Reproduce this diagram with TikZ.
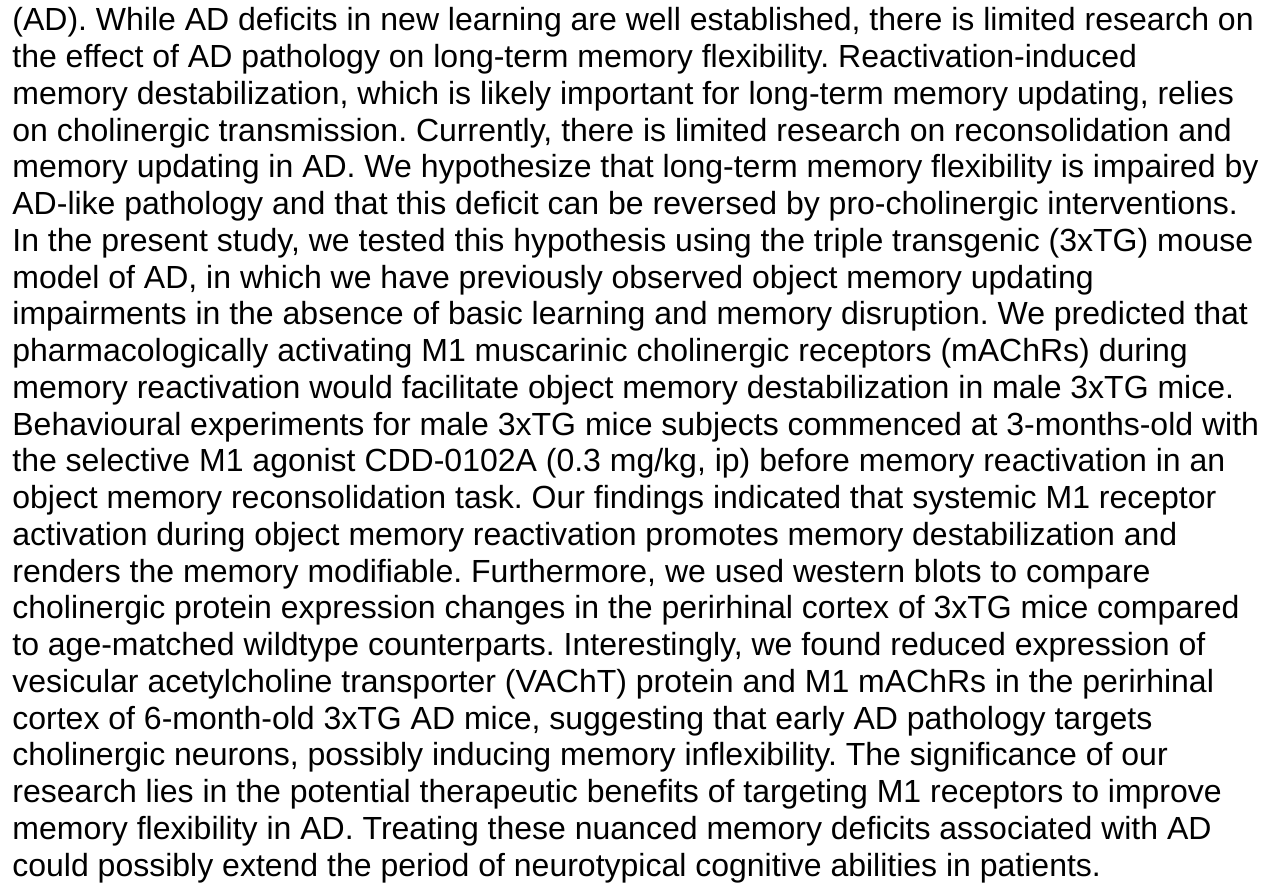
\documentclass[tikz,border=0pt]{standalone}
\usepackage{fontspec}
\setmainfont{Liberation Sans}[Ligatures={TeX,NoCommon}]
\usetikzlibrary{positioning}
\frenchspacing
\tikzset{txtline/.style={anchor=base west,inner sep=0pt,font=\fontsize{16}{19.2}\selectfont}}

\begin{document}
\begin{tikzpicture}[x=0.5pt,y=-0.5pt]
\useasboundingbox (0,0) rectangle (1271,886);
\fill[white] (0,0) rectangle (1271,886);
% Abstract text, one node per printed line.
\node[txtline] (l1) at (12,31) {(AD). While AD deficits in new learning are well established, there is limited research on};
\node[txtline] (l2) at (12,67.75) {the effect of AD pathology on long-term memory flexibility. Reactivation-induced};
\node[txtline] (l3) at (12,104.5) {memory destabilization, which is likely important for long-term memory updating, relies};
\node[txtline] (l4) at (12,141.25) {on cholinergic transmission. Currently, there is limited research on reconsolidation and};
\node[txtline] (l5) at (12,178) {memory updating in AD. We hypothesize that long-term memory flexibility is impaired by};
\node[txtline] (l6) at (12,214.75) {AD-like pathology and that this deficit can be reversed by pro-cholinergic interventions.};
\node[txtline] (l7) at (12,251.5) {In the present study, we tested this hypothesis using the triple transgenic (3xTG) mouse};
\node[txtline] (l8) at (12,288.25) {model of AD, in which we have previously observed object memory updating};
\node[txtline] (l9) at (12,325) {impairments in the absence of basic learning and memory disruption. We predicted that};
\node[txtline] (l10) at (12,361.75) {pharmacologically activating M1 muscarinic cholinergic receptors (mAChRs) during};
\node[txtline] (l11) at (12,398.5) {memory reactivation would facilitate object memory destabilization in male 3xTG mice.};
\node[txtline] (l12) at (12,435.25) {Behavioural experiments for male 3xTG mice subjects commenced at 3-months-old with};
\node[txtline] (l13) at (12,472) {the selective M1 agonist CDD-0102A (0.3 mg/kg, ip) before memory reactivation in an};
\node[txtline] (l14) at (12,508.75) {object memory reconsolidation task. Our findings indicated that systemic M1 receptor};
\node[txtline] (l15) at (12,545.5) {activation during object memory reactivation promotes memory destabilization and};
\node[txtline] (l16) at (12,582.25) {renders the memory modifiable. Furthermore, we used western blots to compare};
\node[txtline] (l17) at (12,619) {cholinergic protein expression changes in the perirhinal cortex of 3xTG mice compared};
\node[txtline] (l18) at (12,655.75) {to age-matched wildtype counterparts. Interestingly, we found reduced expression of};
\node[txtline] (l19) at (12,692.5) {vesicular acetylcholine transporter (VAChT) protein and M1 mAChRs in the perirhinal};
\node[txtline] (l20) at (12,729.25) {cortex of 6-month-old 3xTG AD mice, suggesting that early AD pathology targets};
\node[txtline] (l21) at (12,766) {cholinergic neurons, possibly inducing memory inflexibility. The significance of our};
\node[txtline] (l22) at (12,802.75) {research lies in the potential therapeutic benefits of targeting M1 receptors to improve};
\node[txtline] (l23) at (12,839.5) {memory flexibility in AD. Treating these nuanced memory deficits associated with AD};
\node[txtline] (l24) at (12,876.25) {could possibly extend the period of neurotypical cognitive abilities in patients.};
\end{tikzpicture}
\end{document}
